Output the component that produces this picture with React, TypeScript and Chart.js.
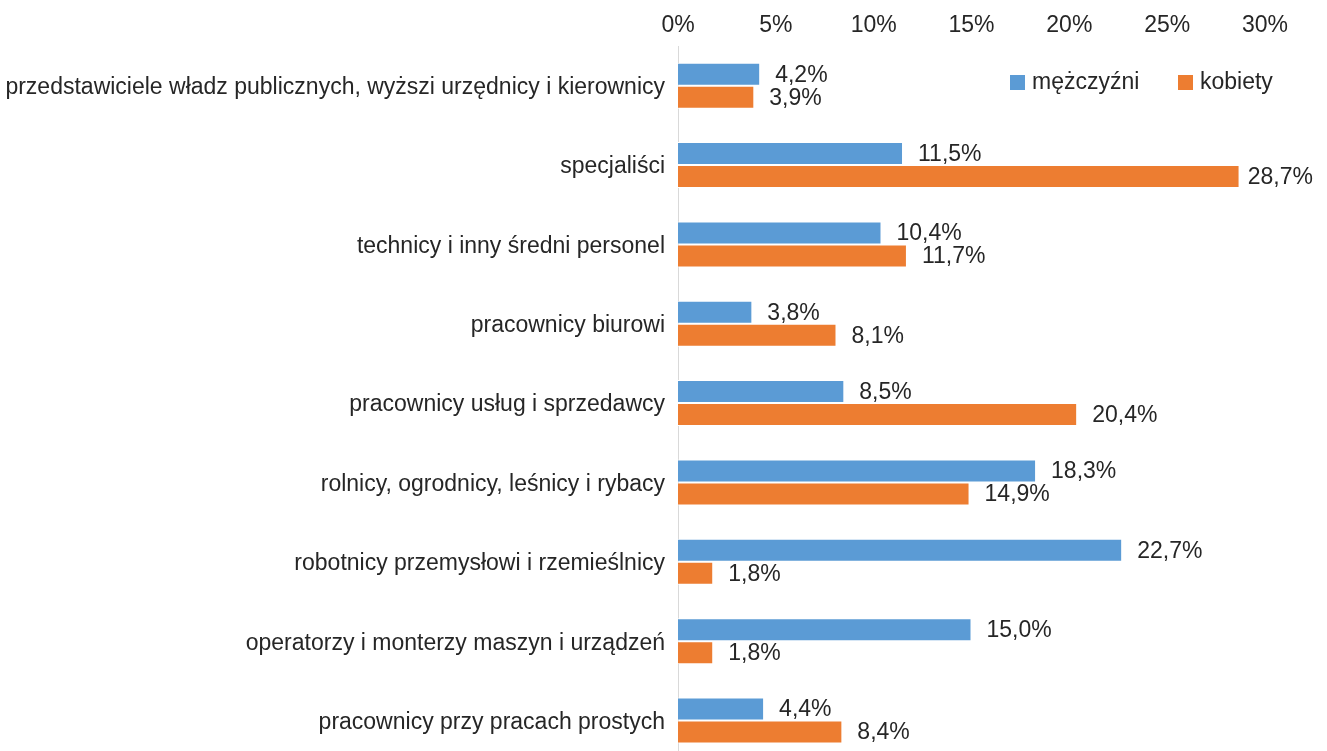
import React, { useEffect, useRef } from "react";
import { Chart, registerables } from "chart.js";

Chart.register(...registerables);

const categories = [
  "przedstawiciele władz publicznych, wyższi urzędnicy i kierownicy",
  "specjaliści",
  "technicy i inny średni personel",
  "pracownicy biurowi",
  "pracownicy usług i sprzedawcy",
  "rolnicy, ogrodnicy, leśnicy i rybacy",
  "robotnicy przemysłowi i rzemieślnicy",
  "operatorzy i monterzy maszyn i urządzeń",
  "pracownicy przy pracach prostych",
];
const men = [4.2, 11.5, 10.4, 3.8, 8.5, 18.3, 22.7, 15.0, 4.4];
const women = [3.9, 28.7, 11.7, 8.1, 20.4, 14.9, 1.8, 1.8, 8.4];
const seriesNames = ["mężczyźni", "kobiety"];
const colors = ["#5B9BD5", "#ED7D31"];

const FONT = "'Liberation Sans', Arial, sans-serif";
const TEXT = "#262626";
const FS = 23;

const fmt = (v: number) => v.toFixed(1).replace(".", ",") + "%";

const labelsPlugin = {
  id: "valueLabels",
  afterDatasetsDraw(chart: any) {
    const ctx = chart.ctx;
    ctx.save();
    ctx.font = `${FS}px ${FONT}`;
    ctx.fillStyle = TEXT;
    ctx.textBaseline = "middle";
    ctx.textAlign = "left";
    chart.data.datasets.forEach((ds: any, di: number) => {
      const meta = chart.getDatasetMeta(di);
      meta.data.forEach((bar: any, i: number) => {
        const txt = fmt(ds.data[i]);
        const w = ctx.measureText(txt).width;
        let x = bar.x + 15;
        if (x + w > chart.width - 14) x = chart.width - 14 - w;
        ctx.fillText(txt, x, bar.y + 1);
      });
    });
    // legend
    const items = [
      { x: 1010, label: seriesNames[0], color: colors[0] },
      { x: 1178, label: seriesNames[1], color: colors[1] },
    ];
    items.forEach((it) => {
      ctx.fillStyle = it.color;
      ctx.fillRect(it.x, 75, 15, 15);
      ctx.fillStyle = TEXT;
      ctx.fillText(it.label, it.x + 22, 83);
    });
    ctx.restore();
  },
};

export default function App() {
  const ref = useRef<HTMLCanvasElement>(null);
  useEffect(() => {
    if (!ref.current) return;
    const chart = new Chart(ref.current, {
      type: "bar",
      data: {
        labels: categories,
        datasets: [
          {
            label: seriesNames[0],
            data: men,
            backgroundColor: colors[0],
            borderColor: "#ffffff",
            borderWidth: 1,
            categoryPercentage: 0.58,
            barPercentage: 1,
          },
          {
            label: seriesNames[1],
            data: women,
            backgroundColor: colors[1],
            borderColor: "#ffffff",
            borderWidth: 1,
            categoryPercentage: 0.58,
            barPercentage: 1,
          },
        ],
      },
      options: {
        indexAxis: "y",
        animation: false,
        responsive: false,
        maintainAspectRatio: false,
        layout: { padding: { left: 0, right: 62, top: 0, bottom: 0 } },
        plugins: {
          legend: { display: false },
          tooltip: { enabled: false },
        },
        scales: {
          x: {
            position: "top",
            min: 0,
            max: 30,
            ticks: {
              stepSize: 5,
              padding: 7,
              color: TEXT,
              font: { family: FONT, size: FS },
              callback: (v: any) => v + "%",
            },
            grid: { display: false, drawTicks: false },
            border: { display: false },
            afterFit: (s: any) => {
              s.height = 46;
            },
          },
          y: {
            ticks: {
              padding: 13,
              labelOffset: 2,
              color: TEXT,
              font: { family: FONT, size: FS },
              autoSkip: false,
            },
            grid: { display: false, drawTicks: false },
            border: { display: true, color: "#D9D9D9", width: 1 },
            afterFit: (s: any) => {
              s.width = 678;
            },
          },
        },
      },
      plugins: [labelsPlugin],
    });
    return () => chart.destroy();
  }, []);
  return (
    <div
      style={{
        position: "absolute",
        left: 0,
        top: 0,
        width: 1327,
        height: 751,
        overflow: "hidden",
        background: "#fff",
      }}
    >
      <canvas ref={ref} width={1327} height={787} style={{ display: "block" }} />
    </div>
  );
}
